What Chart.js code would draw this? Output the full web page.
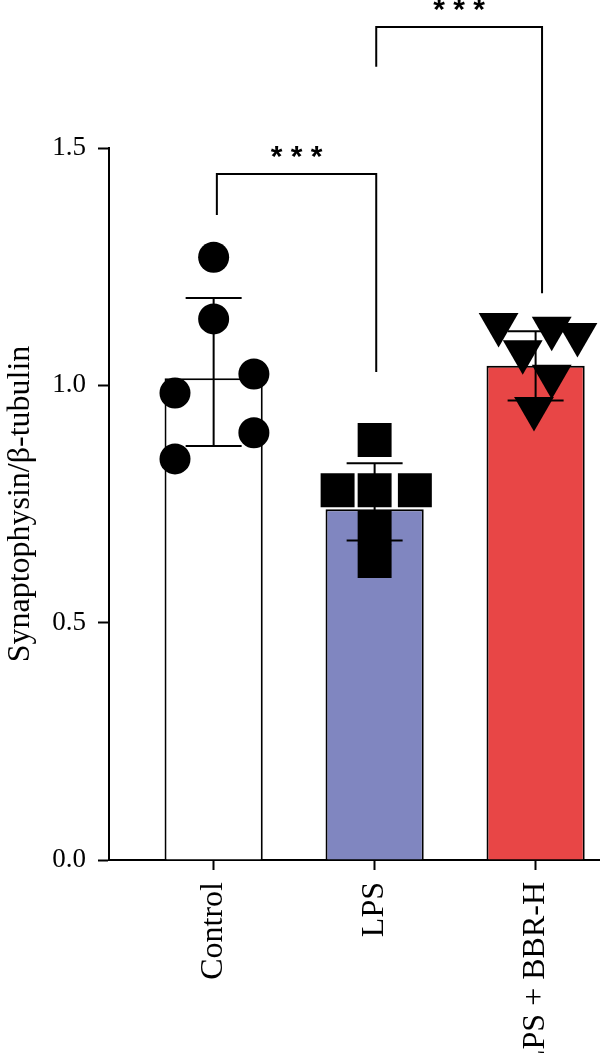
<!DOCTYPE html>
<html>
<head>
<meta charset="utf-8">
<script src="https://cdn.jsdelivr.net/npm/chart.js@4"></script>
<style>
html, body { margin: 0; padding: 0; background: #fff; }
#wrap { width: 600px; height: 1053px; position: relative; }
</style>
</head>
<body>
<div id="wrap"><canvas id="chart"></canvas></div>
<script>
const groups = ['Control', 'LPS', 'LPS + BBR-H'];
const means = [1.015, 0.739, 1.041];
const errHigh = [1.184, 0.836, 1.114];
const errLow = [0.872, 0.673, 0.968];
const controlPoints = [1.270, 1.140, 1.024, 0.984, 0.900, 0.845];
const lpsPoints = [0.885, 0.779, 0.779, 0.779, 0.701, 0.630];
const bbrPoints = [1.128, 1.120, 1.107, 1.071, 1.019, 0.951];
const yTicks = [0, 0.5, 1.0, 1.5];
const sigPairs = [[0, 1], [1, 2]];
const sigLabels = ['***', '***'];

// spread of the dots inside each bar, and where the brackets sit
const controlJitter = [0, 0, 0.25, -0.24, 0.25, -0.24];
const lpsJitter = [0, -0.23, 0, 0.25, 0, 0];
const bbrJitter = [-0.23, 0.1, 0.26, -0.08, 0.1, -0.01];
const bracketShift = [[0.02, 0.01], [0.01, 0.04]];
const bracketTop = [1.445, 1.755];
const bracketLegs = [[1.359, 1.028], [1.671, 1.194]];

const serif = 'Liberation Serif';

function pts(vals, jit, i) {
    return vals.map((v, k) => ({x: i + jit[k], y: v}));
}

const errorBars = {
    id: 'errorBars',
    afterDatasetDraw(chart, args) {
        if (args.index !== 0) return;
        const {ctx, scales: {x, y}} = chart;
        ctx.save();
        ctx.strokeStyle = '#000';
        ctx.lineWidth = 2;
        means.forEach((m, i) => {
            const cx = x.getPixelForValue(i);
            const top = y.getPixelForValue(errHigh[i]);
            const bot = y.getPixelForValue(errLow[i]);
            ctx.beginPath();
            ctx.moveTo(cx, top); ctx.lineTo(cx, bot);
            ctx.moveTo(cx - 28, top); ctx.lineTo(cx + 28, top);
            ctx.moveTo(cx - 28, bot); ctx.lineTo(cx + 28, bot);
            ctx.stroke();
        });
        ctx.restore();
    }
};

const brackets = {
    id: 'brackets',
    afterDraw(chart) {
        const {ctx, scales: {x, y}} = chart;
        ctx.save();
        ctx.strokeStyle = '#000';
        ctx.fillStyle = '#000';
        ctx.lineWidth = 2;
        ctx.font = 'bold 30px "Liberation Sans"';
        ctx.textAlign = 'center';
        ctx.textBaseline = 'middle';
        sigPairs.forEach(([a, b], k) => {
            const x1 = x.getPixelForValue(a + bracketShift[k][0]);
            const x2 = x.getPixelForValue(b + bracketShift[k][1]);
            const yt = y.getPixelForValue(bracketTop[k]);
            ctx.beginPath();
            ctx.moveTo(x1, y.getPixelForValue(bracketLegs[k][0]));
            ctx.lineTo(x1, yt);
            ctx.lineTo(x2, yt);
            ctx.lineTo(x2, y.getPixelForValue(bracketLegs[k][1]));
            ctx.stroke();
            ctx.fillText(sigLabels[k].split('').join(' '), (x1 + x2) / 2, yt - 16);
        });
        ctx.restore();
    }
};

const chart = new Chart(document.getElementById('chart'), {
    type: 'bar',
    data: {
        datasets: [{
            type: 'bar',
            order: 1,
            data: means.map((m, i) => ({x: i, y: m})),
            backgroundColor: ['#ffffff', '#8086c0', '#e84646'],
            borderColor: '#000',
            borderWidth: 2,
            categoryPercentage: 0.61,
            barPercentage: 1
        }, {
            type: 'scatter',
            order: 0,
            data: pts(controlPoints, controlJitter, 0),
            pointStyle: 'circle',
            pointRadius: 15.5,
            backgroundColor: '#000',
            borderColor: '#000',
            borderWidth: 0,
            clip: false
        }, {
            type: 'scatter',
            order: 0,
            data: pts(lpsPoints, lpsJitter, 1),
            pointStyle: 'rect',
            pointRadius: 24,
            backgroundColor: '#000',
            borderColor: '#000',
            borderWidth: 0,
            clip: false
        }, {
            type: 'scatter',
            order: 0,
            data: pts(bbrPoints, bbrJitter, 2),
            pointStyle: 'triangle',
            rotation: 180,
            pointRadius: 23,
            backgroundColor: '#000',
            borderColor: '#000',
            borderWidth: 0,
            clip: false
        }]
    },
    options: {
        responsive: true,
        maintainAspectRatio: false,
        animation: false,
        events: [],
        layout: {autoPadding: false, padding: {top: 148, right: 0, left: 0, bottom: 0}},
        plugins: {legend: {display: false}, tooltip: {enabled: false}},
        scales: {
            x: {
                type: 'linear',
                min: -0.65,
                max: 2.4,
                offset: false,
                afterBuildTicks: s => { s.ticks = groups.map((g, i) => ({value: i})); },
                afterFit: s => { s.height = 193; s.paddingLeft = 0; s.paddingRight = 0; },
                ticks: {
                    callback: v => groups[v],
                    minRotation: 90,
                    maxRotation: 90,
                    autoSkip: false,
                    padding: 12,
                    color: '#000',
                    font: {family: serif, size: 32}
                },
                grid: {offset: false, drawOnChartArea: false, tickLength: 10, color: '#000', tickWidth: 2},
                border: {color: '#000', width: 2}
            },
            y: {
                min: 0,
                max: 1.5,
                afterBuildTicks: s => { s.ticks = yTicks.map(v => ({value: v})); },
                afterFit: s => { s.width = 109; },
                ticks: {
                    callback: v => v.toFixed(1),
                    padding: 12,
                    color: '#000',
                    font: {family: serif, size: 27}
                },
                grid: {drawOnChartArea: false, tickLength: 11, color: '#000', tickWidth: 2},
                border: {color: '#000', width: 2},
                title: {
                    display: true,
                    text: 'Synaptophysin/β-tubulin',
                    color: '#000',
                    font: {family: serif, size: 32},
                    padding: {top: 1, bottom: 0}
                }
            }
        }
    },
    plugins: [errorBars, brackets]
});
</script>
</body>
</html>
